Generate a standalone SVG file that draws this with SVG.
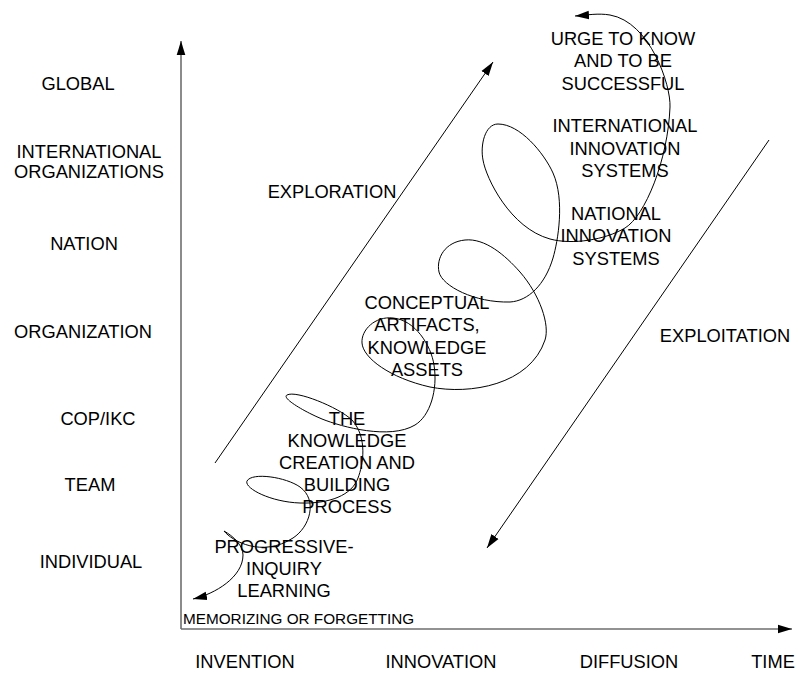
<svg xmlns="http://www.w3.org/2000/svg" width="797" height="673" viewBox="0 0 797 673">
<style>
text{font-family:"Liberation Sans",Arial,sans-serif;font-size:18.3px;fill:#000;text-anchor:middle}
.sm{font-size:15.3px;text-anchor:start}
.st{text-anchor:start}
.ln{stroke:#000;stroke-width:1;fill:none}
.ax{stroke:#6e6e6e;stroke-width:1.6;fill:none}
</style>
<defs>
<marker id="ah" markerUnits="userSpaceOnUse" markerWidth="14" markerHeight="10" refX="13" refY="4" orient="auto" viewBox="0 0 13 8"><path d="M0,0 L13,4 L0,8 z" fill="#000"/></marker>
<marker id="ahs" markerUnits="userSpaceOnUse" markerWidth="14" markerHeight="10" refX="13" refY="4" orient="auto-start-reverse" viewBox="0 0 13 8"><path d="M0,0 L13,4 L0,8 z" fill="#000"/></marker>
</defs>
<rect width="797" height="673" fill="#fff"/>
<g id="connectors">
<line class="ax" x1="181" y1="629" x2="181" y2="41" marker-end="url(#ah)"/>
<line class="ax" x1="181" y1="629" x2="792" y2="629" marker-end="url(#ah)"/>
<line class="ln" x1="215" y1="463" x2="493" y2="62" marker-end="url(#ah)"/>
<line class="ln" x1="769" y1="140" x2="487" y2="548" marker-end="url(#ah)"/>
<path id="spiral" class="ln" marker-start="url(#ahs)" marker-end="url(#ah)" d="M193,599 C215,594 243,577 243,555 C243,545 233,536 224,531 C232,541 262,558 293,538 C310,527 318,500 300,487 C286,477 252,472 247,481 C244,488 270,502 300,503 C330,504 352,495 358,478 C363,465 368,438 352,420 C338,407 296,390 287,395 C281,398 305,412 322,419 C342,427 390,440 415,425 C430,416 438,390 434,365 C431,345 415,320 393,318 C375,316 361,330 362,343 C363,358 390,378 430,387 C470,395 530,385 545,340 C550,325 540,295 520,272 C505,255 485,238 465,240 C445,242 436,258 439,272 C442,286 475,303 510,302 C528,301 545,285 553,258 C558,241 565,200 553,173 C544,153 520,124 498,124 C485,124 480,145 483,160 C486,178 510,228 550,239 C572,245 605,240 625,228 C645,216 668,160 670,107 C671,85 650,22 610,15 C598,13 588,15 575,16"/>
</g>
<g id="lvl-global"><text x="78" y="90">GLOBAL</text></g>
<g id="lvl-intorg"><text x="89" y="158">INTERNATIONAL</text><text x="89" y="178">ORGANIZATIONS</text></g>
<g id="lvl-nation"><text x="84" y="250">NATION</text></g>
<g id="lvl-org"><text x="83" y="338">ORGANIZATION</text></g>
<g id="lvl-cop"><text x="98" y="425">COP/IKC</text></g>
<g id="lvl-team"><text x="90" y="491">TEAM</text></g>
<g id="lvl-individual"><text x="91" y="568">INDIVIDUAL</text></g>
<g id="x-invention"><text x="245" y="668">INVENTION</text></g>
<g id="x-innovation"><text x="441" y="668">INNOVATION</text></g>
<g id="x-diffusion"><text x="629" y="668">DIFFUSION</text></g>
<g id="x-time"><text x="773" y="668">TIME</text></g>
<g id="exploration"><text x="332" y="198">EXPLORATION</text></g>
<g id="exploitation"><text x="725" y="342">EXPLOITATION</text></g>
<g id="urge"><text x="623" y="45">URGE TO KNOW</text><text x="623" y="67">AND TO BE</text><text x="623" y="90">SUCCESSFUL</text></g>
<g id="intl-innov"><text x="625" y="132">INTERNATIONAL</text><text x="625" y="155">INNOVATION</text><text x="625" y="177">SYSTEMS</text></g>
<g id="natl-innov"><text x="616" y="220">NATIONAL</text><text x="616" y="242">INNOVATION</text><text x="616" y="265">SYSTEMS</text></g>
<g id="conceptual"><text x="427" y="309">CONCEPTUAL</text><text x="427" y="331">ARTIFACTS,</text><text x="427" y="354">KNOWLEDGE</text><text x="427" y="376">ASSETS</text></g>
<g id="kcb"><text x="347" y="425">THE</text><text x="347" y="447">KNOWLEDGE</text><text x="347" y="469">CREATION AND</text><text x="347" y="491">BUILDING</text><text x="347" y="513">PROCESS</text></g>
<g id="pil"><text x="284" y="553">PROGRESSIVE-</text><text x="284" y="575">INQUIRY</text><text x="284" y="597">LEARNING</text></g>
<g id="memorizing"><text class="sm" x="183" y="624">MEMORIZING OR FORGETTING</text></g>
</svg>
